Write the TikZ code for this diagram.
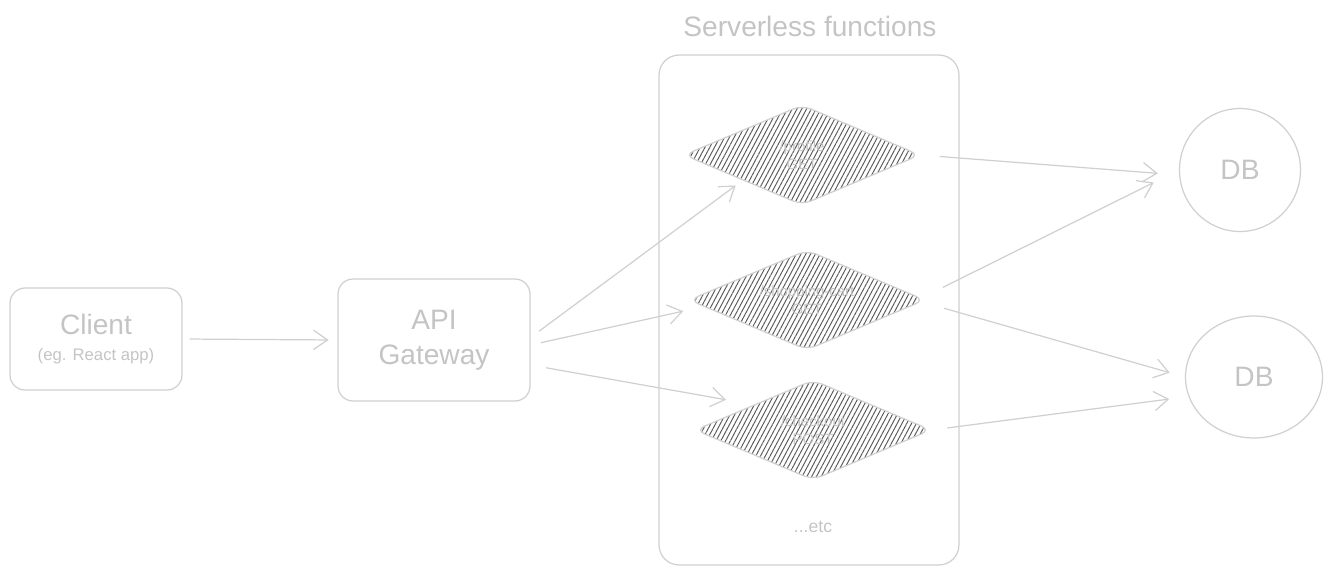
\documentclass[tikz,border=0pt]{standalone}
\usepackage{fontspec}
\setmainfont{Liberation Sans}
\usetikzlibrary{arrows.meta, patterns.meta, positioning, shapes.geometric}

\definecolor{sketch}{HTML}{D0D0D0}
\definecolor{sketchtext}{HTML}{C4C4C4}
\definecolor{hatch}{HTML}{5A5A5A}

\tikzset{
	box/.style={draw=sketch, line width=0.7pt, rounded corners=0.3cm, text=sketchtext, align=center},
	func/.style={diamond, draw=sketch, line width=0.7pt, rounded corners=0.2cm, minimum width=4.72cm, minimum height=2.0cm, inner sep=0pt,
		pattern={Lines[angle=62, distance=2.4pt, line width=0.55pt]}, pattern color=hatch,
		label={[text=sketchtext, font=\fontsize{8.5}{10}\selectfont, align=center]center:#1}},
	db/.style={ellipse, draw=sketch, line width=0.7pt, inner sep=0pt, text=sketchtext, font=\fontsize{16}{19}\selectfont},
	flow/.style={draw=sketch, line width=0.7pt, -{Straight Barb[length=8pt, width=11pt]}},
}

\begin{document}
\begin{tikzpicture}[x=0.02cm, y=-0.02cm]
	\useasboundingbox (0,0) rectangle (1332,575);

	% left side
	\node[box, minimum width=3.44cm, minimum height=2.04cm] (client) at (96,339)
		{\fontsize{16}{20}\selectfont Client\\[3pt]\fontsize{9.5}{11}\selectfont (eg. React app)};
	\node[box, minimum width=3.84cm, minimum height=2.44cm, font=\fontsize{16}{20}\selectfont] (api) at (434,340) {API\\Gateway};

	% functions
	\node[box, rounded corners=0.4cm, minimum width=6cm, minimum height=10.2cm] (lambdas) at (809,310) {};
	\node[text=sketchtext, font=\fontsize{16}{19}\selectfont] (title) at (810,26) {Serverless functions};
	\node[text=sketchtext, font=\fontsize{10}{12}\selectfont] (etc) at (813,527) {...etc};

	\node[func={/profile\\GET}] (f1) at (802,155) {};
	\node[func={/shopping-cart\\GET}] (f2) at (807,300) {};
	\node[func={/checkout\\POST}] (f3) at (813,430) {};

	% databases
	\node[db, minimum width=2.42cm, minimum height=2.46cm] (db1) at (1240,170) {DB};
	\node[db, minimum width=2.74cm, minimum height=2.44cm] (db2) at (1254,377) {DB};

	% arrows
	\draw[flow, shorten <=4pt, shorten >=5pt] (client.east) -- (api.west);

	\draw[flow, shorten <=6pt, shorten >=5pt] ([yshift=0.05cm]api.east) -- (f1.south west);
	\draw[flow, shorten <=6pt, shorten >=3pt] ([yshift=-0.1cm]api.east) -- ([yshift=-0.2cm]f2.west);
	\draw[flow, shorten <=9pt, shorten >=16pt] ([yshift=-0.5cm]api.east) -- (f3.north west);

	\draw[flow, shorten <=11pt, shorten >=12pt] (f1.east) -- ([yshift=-0.1cm]db1.west);
	\draw[flow, shorten <=11pt, shorten >=16pt] ([yshift=0.08cm]f2.east) -- (db1.west);
	\draw[flow, shorten <=11pt, shorten >=9pt] ([yshift=-0.06cm]f2.east) -- (db2.west);
	\draw[flow, shorten <=9pt, shorten >=9pt] (f3.east) -- ([yshift=-0.4cm]db2.west);
\end{tikzpicture}
\end{document}
